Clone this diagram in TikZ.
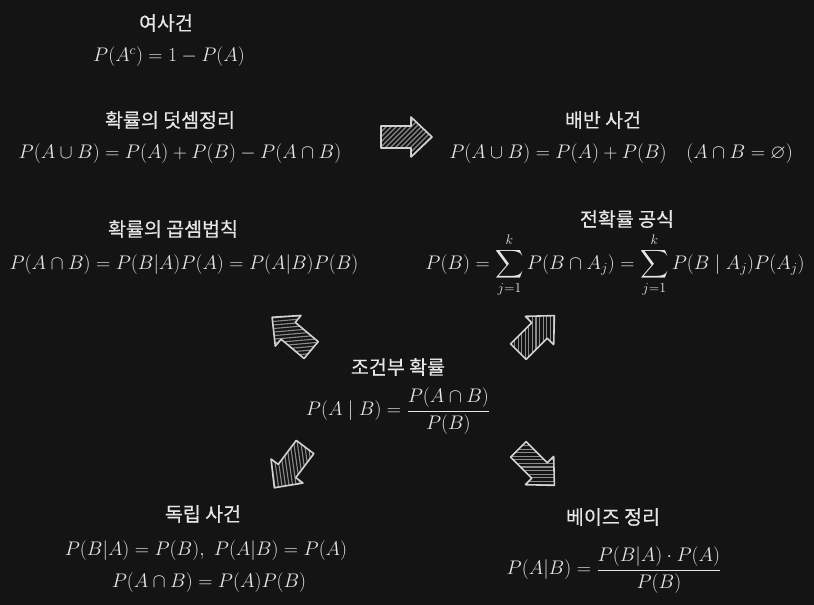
\RequirePackage{fix-cm}
\documentclass[tikz,border=0pt]{standalone}
\usepackage{amsmath}
\usepackage{amssymb}
\usepackage{fontspec}
\newfontfamily\kr[FakeBold=0.4]{Noto Sans CJK KR}
\definecolor{bg}{HTML}{141414}
\definecolor{fg}{HTML}{E6E6E6}
\definecolor{hatchc}{HTML}{8A8A8A}
\definecolor{outl}{HTML}{D2D2D2}
\tikzset{
  title/.style={text=fg, font=\kr\fontsize{19.5}{23}\selectfont, inner sep=0pt},
  formula/.style={text=fg, font=\fontsize{19.7}{24}\selectfont, inner sep=0pt},
  hatchline/.style={draw=hatchc, line width=1.1pt},
  arrowline/.style={draw=outl, line width=1.6pt, line join=round},
  blockarrow/.pic={
    \begin{scope}
      \clip (-25,-11) -- (5,-11) -- (5,-20) -- (26,0) -- (5,20) -- (5,11) -- (-25,11) -- cycle;
      \foreach \i in {-75,-70,...,75} \draw[hatchline] (\i-35,35) -- (\i+35,-35);
    \end{scope}
    \draw[arrowline] (-25,-11) -- (5,-11) -- (5,-20) -- (26,0) -- (5,20) -- (5,11) -- (-25,11) -- cycle;
  }
}
\begin{document}
\begin{tikzpicture}[x=1pt,y=-1pt]
\fill[bg] (0,0) rectangle (814,605);
\useasboundingbox (0,0) rectangle (814,605);

\node[title] (t1) at (166,23) {여사건};
\node[formula] (f1) at (169,57) {$P(A^c) = 1 - P(A)$};

\node[title] (t2) at (170,120) {확률의 덧셈정리};
\node[formula] (f2) at (180,154) {$P(A\cup B) = P(A)+P(B)-P(A\cap B)$};

\pic at (406,137) {blockarrow};

\node[title] (t3) at (603,120) {배반 사건};
\node[formula] (f3) at (621,154) {$P(A\cup B) = P(A)+P(B)\quad(A\cap B=\varnothing)$};

\node[title] (t4) at (173,229) {확률의 곱셈법칙};
\node[formula] (f4) at (184,265) {$P(A\cap B)=P(B|A)P(A)=P(A|B)P(B)$};

\node[title] (t5) at (627,219) {전확률 공식};
\node[formula] (f5) at (615,265) {$\displaystyle P(B)=\sum_{j=1}^{k}P(B\cap A_j)=\sum_{j=1}^{k}P(B\mid A_j)P(A_j)$};

\pic[rotate=140] at (292,334) {blockarrow};
\pic[rotate=45] at (536,334) {blockarrow};

\node[title] (t6) at (398,367) {조건부 확률};
\node[formula] (f6) at (398,411) {$\displaystyle P(A\mid B)=\frac{P(A\cap B)}{P(B)}$};

\pic[rotate=233] at (290,467) {blockarrow};
\pic[rotate=-45] at (536,467) {blockarrow};

\node[title] (t7) at (203,514) {독립 사건};
\node[formula] (f7a) at (206,551) {$P(B|A)=P(B),\ P(A|B)=P(A)$};
\node[formula] (f7b) at (209,583) {$P(A\cap B)=P(A)P(B)$};

\node[title] (t8) at (613,517) {베이즈 정리};
\node[formula] (f8) at (614,570) {$\displaystyle P(A|B)=\frac{P(B|A)\cdot P(A)}{P(B)}$};
\end{tikzpicture}
\end{document}
